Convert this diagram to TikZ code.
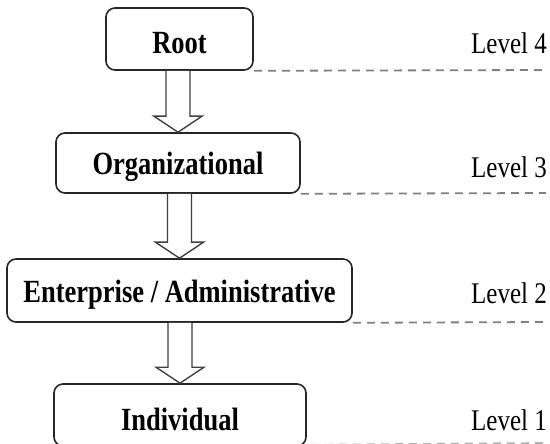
\documentclass[tikz,border=0pt]{standalone}
\usepackage{fontspec}
\setmainfont{Liberation Serif}
\usetikzlibrary{calc}
\newcommand{\bxtxt}[1]{\raisebox{-4pt}[\height][\depth]{\scalebox{1}[1.22]{#1}}}
\begin{document}
\begin{tikzpicture}[x=1pt,y=1pt,
  box/.style={draw=black!85,line width=1.6pt,rounded corners=9pt,fill=white,inner sep=0pt,
    font=\fontsize{26.5}{30}\selectfont\bfseries},
  lvl/.style={inner sep=0pt,font=\fontsize{25}{30}\selectfont},
  hollow/.style={draw=black!75,line width=1.4pt,fill=white,line join=miter},
  dash line/.style={draw=black!50,line width=1.8pt,dash pattern=on 8pt off 6pt}]
\useasboundingbox (0,0) rectangle (550,-444);
\node[box,minimum width=147pt,minimum height=62pt] (root) at (179.5,-39) {\bxtxt{Root}};
\node[box,minimum width=244pt,minimum height=60pt] (org) at (178,-163) {\bxtxt{Organizational}};
\node[box,minimum width=345pt,minimum height=63pt] (ent) at (179.5,-290.5) {\bxtxt{Enterprise / Administrative}};
\node[box,minimum width=252pt,minimum height=62pt] (ind) at (180,-415) {\bxtxt{Individual}};
\node[lvl] (l4) at (509,-43) {\scalebox{1}[1.2]{Level 4}};
\node[lvl] (l3) at (509,-167) {\scalebox{1}[1.2]{Level 3}};
\node[lvl] (l2) at (509,-293) {\scalebox{1}[1.2]{Level 2}};
\node[lvl] (l1) at (509,-420) {\scalebox{1}[1.2]{Level 1}};
\coordinate (e4) at (546,-70);
\coordinate (e3) at (546,-193);
\coordinate (e2) at (546,-322);
\coordinate (e1) at (546,-443);
\draw[dash line] (root.south east) -- (e4);
\draw[dash line] (org.south east) -- (e3);
\draw[dash line] (ent.south east) -- (e2);
\draw[dash line,draw=black!30] ($(ind.south east)+(4,2)$) -- (e1);
\foreach \a/\b in {root/org,org/ent,ent/ind}{
  \draw[hollow] let \p1=(\a.south), \p2=(\b.north) in
    (\x2-12,\y1) -- (\x2-12,\y2+16) -- (\x2-24,\y2+16) -- (\x2,\y2)
    -- (\x2+24,\y2+16) -- (\x2+12,\y2+16) -- (\x2+12,\y1);
}
\end{tikzpicture}
\end{document}
